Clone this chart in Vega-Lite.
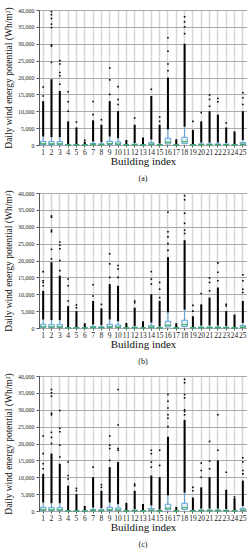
{
  "$schema": "https://vega.github.io/schema/vega-lite/v6.json",
  "padding": {"left": 2, "top": 6, "right": 1, "bottom": 0},
  "bounds": "flush",
  "spacing": 48,
  "config": {
    "font": "Liberation Serif",
    "view": {"stroke": "#555", "strokeWidth": 1},
    "axis": {"labelFont": "Liberation Serif", "titleFont": "Liberation Serif", "labelColor": "#222", "titleColor": "#111", "titleFontWeight": "normal", "domain": false, "tickColor": "#555"},
    "axisX": {"labelFontSize": 7.5, "titleFontSize": 11, "bandPosition": 0.5, "gridColor": "#d6d6d6", "gridWidth": 1.5, "labelAngle": 0, "tickSize": 2, "labelPadding": 1, "titlePadding": 0},
    "axisY": {"labelFontSize": 6, "titleFontSize": 9.5, "gridColor": "#aaa", "tickSize": 3, "labelPadding": 2, "titlePadding": 4},
    "title": {"fontSize": 8, "font": "Liberation Serif", "fontWeight": "normal", "color": "#111", "offset": 8}
  },
  "datasets": {
    "stats": [
      {"p":"a","b":1,"q1":100,"med":400,"q3":1100,"wh":2500,"dense":13000},
      {"p":"a","b":2,"q1":100,"med":350,"q3":1000,"wh":2300,"dense":19500},
      {"p":"a","b":3,"q1":100,"med":350,"q3":1000,"wh":2300,"dense":16000},
      {"p":"a","b":4,"q1":0,"med":40,"q3":120,"wh":300,"dense":7000},
      {"p":"a","b":5,"q1":0,"med":30,"q3":100,"wh":250,"dense":5200},
      {"p":"a","b":6,"q1":0,"med":20,"q3":60,"wh":150,"dense":1000},
      {"p":"a","b":7,"q1":50,"med":150,"q3":450,"wh":1000,"dense":7300},
      {"p":"a","b":8,"q1":40,"med":120,"q3":350,"wh":800,"dense":6000},
      {"p":"a","b":9,"q1":150,"med":400,"q3":1100,"wh":2500,"dense":13000},
      {"p":"a","b":10,"q1":100,"med":300,"q3":900,"wh":2000,"dense":10000},
      {"p":"a","b":11,"q1":0,"med":20,"q3":60,"wh":150,"dense":1500},
      {"p":"a","b":12,"q1":30,"med":100,"q3":250,"wh":600,"dense":6000},
      {"p":"a","b":13,"q1":0,"med":20,"q3":60,"wh":150,"dense":2200},
      {"p":"a","b":14,"q1":80,"med":250,"q3":700,"wh":1600,"dense":14500},
      {"p":"a","b":15,"q1":0,"med":40,"q3":150,"wh":400,"dense":6000},
      {"p":"a","b":16,"q1":300,"med":800,"q3":2000,"wh":4600,"dense":20000},
      {"p":"a","b":17,"q1":0,"med":20,"q3":60,"wh":150,"dense":1700},
      {"p":"a","b":18,"q1":400,"med":1000,"q3":2300,"wh":5400,"dense":30000},
      {"p":"a","b":19,"q1":0,"med":40,"q3":120,"wh":300,"dense":4500},
      {"p":"a","b":20,"q1":30,"med":100,"q3":300,"wh":700,"dense":7000},
      {"p":"a","b":21,"q1":30,"med":100,"q3":300,"wh":700,"dense":10000},
      {"p":"a","b":22,"q1":30,"med":100,"q3":300,"wh":700,"dense":9000},
      {"p":"a","b":23,"q1":30,"med":80,"q3":250,"wh":600,"dense":5200},
      {"p":"a","b":24,"q1":0,"med":30,"q3":100,"wh":250,"dense":4000},
      {"p":"a","b":25,"q1":100,"med":250,"q3":700,"wh":1500,"dense":10000},
      {"p":"b","b":1,"q1":100,"med":400,"q3":1100,"wh":2500,"dense":11000},
      {"p":"b","b":2,"q1":100,"med":350,"q3":1000,"wh":2300,"dense":19500},
      {"p":"b","b":3,"q1":100,"med":350,"q3":1000,"wh":2300,"dense":15500},
      {"p":"b","b":4,"q1":0,"med":40,"q3":120,"wh":300,"dense":6500},
      {"p":"b","b":5,"q1":0,"med":30,"q3":100,"wh":250,"dense":5000},
      {"p":"b","b":6,"q1":0,"med":20,"q3":60,"wh":150,"dense":1400},
      {"p":"b","b":7,"q1":50,"med":150,"q3":450,"wh":1000,"dense":8000},
      {"p":"b","b":8,"q1":40,"med":120,"q3":350,"wh":800,"dense":5800},
      {"p":"b","b":9,"q1":150,"med":400,"q3":1100,"wh":2500,"dense":13000},
      {"p":"b","b":10,"q1":100,"med":300,"q3":900,"wh":2000,"dense":12500},
      {"p":"b","b":11,"q1":0,"med":20,"q3":60,"wh":150,"dense":1500},
      {"p":"b","b":12,"q1":30,"med":100,"q3":250,"wh":600,"dense":6000},
      {"p":"b","b":13,"q1":0,"med":20,"q3":60,"wh":150,"dense":2000},
      {"p":"b","b":14,"q1":80,"med":250,"q3":700,"wh":1600,"dense":10000},
      {"p":"b","b":15,"q1":0,"med":40,"q3":150,"wh":400,"dense":8000},
      {"p":"b","b":16,"q1":300,"med":800,"q3":2000,"wh":4600,"dense":21000},
      {"p":"b","b":17,"q1":0,"med":20,"q3":60,"wh":150,"dense":1400},
      {"p":"b","b":18,"q1":400,"med":1000,"q3":2300,"wh":5400,"dense":26000},
      {"p":"b","b":19,"q1":0,"med":40,"q3":120,"wh":300,"dense":3500},
      {"p":"b","b":20,"q1":30,"med":100,"q3":300,"wh":700,"dense":7000},
      {"p":"b","b":21,"q1":30,"med":100,"q3":300,"wh":700,"dense":9000},
      {"p":"b","b":22,"q1":30,"med":100,"q3":300,"wh":700,"dense":12000},
      {"p":"b","b":23,"q1":30,"med":80,"q3":250,"wh":600,"dense":5000},
      {"p":"b","b":24,"q1":0,"med":30,"q3":100,"wh":250,"dense":4000},
      {"p":"b","b":25,"q1":100,"med":250,"q3":700,"wh":1500,"dense":8000},
      {"p":"c","b":1,"q1":100,"med":400,"q3":1100,"wh":2500,"dense":11000},
      {"p":"c","b":2,"q1":100,"med":350,"q3":1000,"wh":2300,"dense":17000},
      {"p":"c","b":3,"q1":100,"med":350,"q3":1000,"wh":2300,"dense":14000},
      {"p":"c","b":4,"q1":0,"med":40,"q3":120,"wh":300,"dense":7500},
      {"p":"c","b":5,"q1":0,"med":30,"q3":100,"wh":250,"dense":5000},
      {"p":"c","b":6,"q1":0,"med":20,"q3":60,"wh":150,"dense":1500},
      {"p":"c","b":7,"q1":50,"med":150,"q3":450,"wh":1000,"dense":10000},
      {"p":"c","b":8,"q1":40,"med":120,"q3":350,"wh":800,"dense":6000},
      {"p":"c","b":9,"q1":150,"med":400,"q3":1100,"wh":2500,"dense":13000},
      {"p":"c","b":10,"q1":100,"med":300,"q3":900,"wh":2000,"dense":14500},
      {"p":"c","b":11,"q1":0,"med":20,"q3":60,"wh":150,"dense":2400},
      {"p":"c","b":12,"q1":30,"med":100,"q3":250,"wh":600,"dense":6000},
      {"p":"c","b":13,"q1":0,"med":20,"q3":60,"wh":150,"dense":2100},
      {"p":"c","b":14,"q1":80,"med":250,"q3":700,"wh":1600,"dense":10500},
      {"p":"c","b":15,"q1":0,"med":40,"q3":150,"wh":400,"dense":10000},
      {"p":"c","b":16,"q1":300,"med":800,"q3":2000,"wh":4600,"dense":22000},
      {"p":"c","b":17,"q1":0,"med":20,"q3":60,"wh":150,"dense":1200},
      {"p":"c","b":18,"q1":400,"med":1000,"q3":2300,"wh":5400,"dense":27000},
      {"p":"c","b":19,"q1":0,"med":40,"q3":120,"wh":300,"dense":4000},
      {"p":"c","b":20,"q1":30,"med":100,"q3":300,"wh":700,"dense":7000},
      {"p":"c","b":21,"q1":30,"med":100,"q3":300,"wh":700,"dense":10000},
      {"p":"c","b":22,"q1":30,"med":100,"q3":300,"wh":700,"dense":15000},
      {"p":"c","b":23,"q1":30,"med":80,"q3":250,"wh":600,"dense":6300},
      {"p":"c","b":24,"q1":0,"med":30,"q3":100,"wh":250,"dense":3800},
      {"p":"c","b":25,"q1":100,"med":250,"q3":700,"wh":1500,"dense":9000}
    ],
    "out": [
      {"p":"a","b":1,"v":14500},{"p":"a","b":1,"v":17200},
      {"p":"a","b":2,"v":24500},{"p":"a","b":2,"v":29300},{"p":"a","b":2,"v":29700},{"p":"a","b":2,"v":34800},{"p":"a","b":2,"v":35800},{"p":"a","b":2,"v":37500},{"p":"a","b":2,"v":38600},{"p":"a","b":2,"v":39500},
      {"p":"a","b":3,"v":18000},{"p":"a","b":3,"v":20500},{"p":"a","b":3,"v":21500},{"p":"a","b":3,"v":24000},{"p":"a","b":3,"v":25000},
      {"p":"a","b":4,"v":10000},{"p":"a","b":4,"v":12800},{"p":"a","b":4,"v":15800},
      {"p":"a","b":5,"v":6800},
      {"p":"a","b":6,"v":1400},
      {"p":"a","b":7,"v":9000},{"p":"a","b":7,"v":12900},
      {"p":"a","b":8,"v":7500},
      {"p":"a","b":9,"v":15000},{"p":"a","b":9,"v":19300},{"p":"a","b":9,"v":22800},
      {"p":"a","b":10,"v":12000},{"p":"a","b":10,"v":13500},{"p":"a","b":10,"v":17300},
      {"p":"a","b":12,"v":8000},
      {"p":"a","b":14,"v":16500},
      {"p":"a","b":15,"v":7000},{"p":"a","b":15,"v":8300},
      {"p":"a","b":16,"v":22000},{"p":"a","b":16,"v":24000},{"p":"a","b":16,"v":27800},{"p":"a","b":16,"v":31800},
      {"p":"a","b":18,"v":33000},{"p":"a","b":18,"v":35000},{"p":"a","b":18,"v":36500},{"p":"a","b":18,"v":38000},
      {"p":"a","b":19,"v":7000},
      {"p":"a","b":20,"v":9600},
      {"p":"a","b":21,"v":11500},{"p":"a","b":21,"v":13500},{"p":"a","b":21,"v":14800},
      {"p":"a","b":22,"v":12800},{"p":"a","b":22,"v":13800},
      {"p":"a","b":23,"v":6500},
      {"p":"a","b":25,"v":12000},{"p":"a","b":25,"v":14000},{"p":"a","b":25,"v":15500},
      {"p":"b","b":1,"v":12500},{"p":"b","b":1,"v":13500},{"p":"b","b":1,"v":14000},{"p":"b","b":1,"v":16700},
      {"p":"b","b":2,"v":20500},{"p":"b","b":2,"v":23300},{"p":"b","b":2,"v":28500},{"p":"b","b":2,"v":29000},{"p":"b","b":2,"v":32800},{"p":"b","b":2,"v":33200},
      {"p":"b","b":3,"v":17000},{"p":"b","b":3,"v":20000},{"p":"b","b":3,"v":23500},{"p":"b","b":3,"v":24500},{"p":"b","b":3,"v":25500},
      {"p":"b","b":4,"v":8000},{"p":"b","b":4,"v":12500},{"p":"b","b":4,"v":14500},
      {"p":"b","b":5,"v":6000},{"p":"b","b":5,"v":6800},
      {"p":"b","b":7,"v":9500},{"p":"b","b":7,"v":12800},
      {"p":"b","b":8,"v":7000},
      {"p":"b","b":9,"v":15000},{"p":"b","b":9,"v":19000},{"p":"b","b":9,"v":22000},
      {"p":"b","b":10,"v":15000},{"p":"b","b":10,"v":17500},{"p":"b","b":10,"v":18500},
      {"p":"b","b":12,"v":7500},{"p":"b","b":12,"v":8000},
      {"p":"b","b":14,"v":13000},{"p":"b","b":14,"v":14500},{"p":"b","b":14,"v":16700},
      {"p":"b","b":15,"v":9000},{"p":"b","b":15,"v":11500},{"p":"b","b":15,"v":13500},
      {"p":"b","b":16,"v":23000},{"p":"b","b":16,"v":25000},{"p":"b","b":16,"v":27000},{"p":"b","b":16,"v":28500},{"p":"b","b":16,"v":34300},
      {"p":"b","b":18,"v":28000},{"p":"b","b":18,"v":29000},{"p":"b","b":18,"v":31000},{"p":"b","b":18,"v":34000},{"p":"b","b":18,"v":38000},{"p":"b","b":18,"v":39200},
      {"p":"b","b":19,"v":5000},{"p":"b","b":19,"v":6700},
      {"p":"b","b":20,"v":10200},
      {"p":"b","b":21,"v":11000},{"p":"b","b":21,"v":13500},{"p":"b","b":21,"v":14800},
      {"p":"b","b":22,"v":14000},{"p":"b","b":22,"v":16500},{"p":"b","b":22,"v":19300},
      {"p":"b","b":23,"v":6500},{"p":"b","b":23,"v":7000},
      {"p":"b","b":25,"v":10500},{"p":"b","b":25,"v":11500},{"p":"b","b":25,"v":14000},{"p":"b","b":25,"v":15800},
      {"p":"c","b":1,"v":12500},{"p":"c","b":1,"v":14000},{"p":"c","b":1,"v":17000},{"p":"c","b":1,"v":22200},
      {"p":"c","b":2,"v":20000},{"p":"c","b":2,"v":21800},{"p":"c","b":2,"v":23300},{"p":"c","b":2,"v":28500},{"p":"c","b":2,"v":29000},{"p":"c","b":2,"v":34000},{"p":"c","b":2,"v":35000},{"p":"c","b":2,"v":36000},
      {"p":"c","b":3,"v":16000},{"p":"c","b":3,"v":19500},{"p":"c","b":3,"v":23500},{"p":"c","b":3,"v":24500},{"p":"c","b":3,"v":29800},
      {"p":"c","b":4,"v":9500},{"p":"c","b":4,"v":10500},{"p":"c","b":4,"v":14500},
      {"p":"c","b":5,"v":6000},{"p":"c","b":5,"v":6700},
      {"p":"c","b":7,"v":13000},
      {"p":"c","b":8,"v":7000},{"p":"c","b":8,"v":7800},
      {"p":"c","b":9,"v":15000},{"p":"c","b":9,"v":18500},{"p":"c","b":9,"v":19500},{"p":"c","b":9,"v":22200},
      {"p":"c","b":10,"v":18000},{"p":"c","b":10,"v":18500},{"p":"c","b":10,"v":25500},{"p":"c","b":10,"v":36000},
      {"p":"c","b":12,"v":7500},{"p":"c","b":12,"v":8000},
      {"p":"c","b":14,"v":13000},{"p":"c","b":14,"v":14500},{"p":"c","b":14,"v":17000},{"p":"c","b":14,"v":18000},
      {"p":"c","b":15,"v":13500},{"p":"c","b":15,"v":18000},
      {"p":"c","b":16,"v":25000},{"p":"c","b":16,"v":27500},{"p":"c","b":16,"v":28500},{"p":"c","b":16,"v":30500},{"p":"c","b":16,"v":32500},{"p":"c","b":16,"v":34500},
      {"p":"c","b":18,"v":28500},{"p":"c","b":18,"v":29500},{"p":"c","b":18,"v":30000},{"p":"c","b":18,"v":33500},{"p":"c","b":18,"v":34500},{"p":"c","b":18,"v":38000},{"p":"c","b":18,"v":39000},
      {"p":"c","b":19,"v":6000},{"p":"c","b":19,"v":7000},
      {"p":"c","b":20,"v":10000},{"p":"c","b":20,"v":12000},{"p":"c","b":20,"v":14200},
      {"p":"c","b":21,"v":12500},{"p":"c","b":21,"v":14800},{"p":"c","b":21,"v":20600},
      {"p":"c","b":22,"v":18000},{"p":"c","b":22,"v":28500},
      {"p":"c","b":23,"v":11500},
      {"p":"c","b":24,"v":4200},
      {"p":"c","b":25,"v":11000},{"p":"c","b":25,"v":12000},{"p":"c","b":25,"v":14500},{"p":"c","b":25,"v":15800}
    ]
  },
  "vconcat": [
    {
      "title": {"text": "(a)", "orient": "bottom"},
      "width": 208, "height": 135,
      "encoding": {
        "x": {"field": "b", "type": "ordinal", "scale": {"domain": [1,2,3,4,5,6,7,8,9,10,11,12,13,14,15,16,17,18,19,20,21,22,23,24,25], "paddingInner": 0, "paddingOuter": 0}, "axis": {"grid": true}, "title": "Building index"}
      },
      "layer": [
        {"data": {"name": "stats"}, "transform": [{"filter": "datum.p === 'a'"}], "mark": {"type": "rule", "color": "#000", "strokeWidth": 2}, "encoding": {"y": {"field": "wh", "type": "quantitative", "scale": {"domain": [0, 40000], "nice": false}, "axis": {"values": [0,5000,10000,15000,20000,25000,30000,35000,40000], "format": ",d", "grid": true}, "title": "Daily wind energy potential (Wh/m²)"}, "y2": {"field": "dense"}}},
        {"data": {"name": "stats"}, "transform": [{"filter": "datum.p === 'a'"}], "mark": {"type": "rule", "color": "#5ba3d9", "strokeWidth": 1}, "encoding": {"y": {"field": "q3", "type": "quantitative", "scale": {"domain": [0, 40000], "nice": false}, "axis": {"values": [0,5000,10000,15000,20000,25000,30000,35000,40000], "format": ",d", "grid": true}, "title": "Daily wind energy potential (Wh/m²)"}, "y2": {"field": "wh"}}},
        {"data": {"name": "stats"}, "transform": [{"filter": "datum.p === 'a'"}], "mark": {"type": "bar", "size": 5.5, "fill": "#eaf4fb", "stroke": "#5ba3d9", "strokeWidth": 1}, "encoding": {"y": {"field": "q1", "type": "quantitative", "scale": {"domain": [0, 40000], "nice": false}, "axis": {"values": [0,5000,10000,15000,20000,25000,30000,35000,40000], "format": ",d", "grid": true}, "title": "Daily wind energy potential (Wh/m²)"}, "y2": {"field": "q3"}}},
        {"data": {"name": "stats"}, "transform": [{"filter": "datum.p === 'a'"}], "mark": {"type": "tick", "color": "#2ca02c", "thickness": 1.5, "size": 5.5}, "encoding": {"y": {"field": "med", "type": "quantitative", "scale": {"domain": [0, 40000], "nice": false}, "axis": {"values": [0,5000,10000,15000,20000,25000,30000,35000,40000], "format": ",d", "grid": true}, "title": "Daily wind energy potential (Wh/m²)"}}},
        {"data": {"name": "out"}, "transform": [{"filter": "datum.p === 'a'"}], "mark": {"type": "square", "color": "#000", "size": 2.5, "opacity": 1}, "encoding": {"y": {"field": "v", "type": "quantitative", "scale": {"domain": [0, 40000], "nice": false}, "axis": {"values": [0,5000,10000,15000,20000,25000,30000,35000,40000], "format": ",d", "grid": true}, "title": "Daily wind energy potential (Wh/m²)"}}}
      ]
    },
    {
      "title": {"text": "(b)", "orient": "bottom"},
      "width": 208, "height": 135,
      "encoding": {
        "x": {"field": "b", "type": "ordinal", "scale": {"domain": [1,2,3,4,5,6,7,8,9,10,11,12,13,14,15,16,17,18,19,20,21,22,23,24,25], "paddingInner": 0, "paddingOuter": 0}, "axis": {"grid": true}, "title": "Building index"}
      },
      "layer": [
        {"data": {"name": "stats"}, "transform": [{"filter": "datum.p === 'b'"}], "mark": {"type": "rule", "color": "#000", "strokeWidth": 2}, "encoding": {"y": {"field": "wh", "type": "quantitative", "scale": {"domain": [0, 40000], "nice": false}, "axis": {"values": [0,5000,10000,15000,20000,25000,30000,35000,40000], "format": ",d", "grid": true}, "title": "Daily wind energy potential (Wh/m²)"}, "y2": {"field": "dense"}}},
        {"data": {"name": "stats"}, "transform": [{"filter": "datum.p === 'b'"}], "mark": {"type": "rule", "color": "#5ba3d9", "strokeWidth": 1}, "encoding": {"y": {"field": "q3", "type": "quantitative", "scale": {"domain": [0, 40000], "nice": false}, "axis": {"values": [0,5000,10000,15000,20000,25000,30000,35000,40000], "format": ",d", "grid": true}, "title": "Daily wind energy potential (Wh/m²)"}, "y2": {"field": "wh"}}},
        {"data": {"name": "stats"}, "transform": [{"filter": "datum.p === 'b'"}], "mark": {"type": "bar", "size": 5.5, "fill": "#eaf4fb", "stroke": "#5ba3d9", "strokeWidth": 1}, "encoding": {"y": {"field": "q1", "type": "quantitative", "scale": {"domain": [0, 40000], "nice": false}, "axis": {"values": [0,5000,10000,15000,20000,25000,30000,35000,40000], "format": ",d", "grid": true}, "title": "Daily wind energy potential (Wh/m²)"}, "y2": {"field": "q3"}}},
        {"data": {"name": "stats"}, "transform": [{"filter": "datum.p === 'b'"}], "mark": {"type": "tick", "color": "#2ca02c", "thickness": 1.5, "size": 5.5}, "encoding": {"y": {"field": "med", "type": "quantitative", "scale": {"domain": [0, 40000], "nice": false}, "axis": {"values": [0,5000,10000,15000,20000,25000,30000,35000,40000], "format": ",d", "grid": true}, "title": "Daily wind energy potential (Wh/m²)"}}},
        {"data": {"name": "out"}, "transform": [{"filter": "datum.p === 'b'"}], "mark": {"type": "square", "color": "#000", "size": 2.5, "opacity": 1}, "encoding": {"y": {"field": "v", "type": "quantitative", "scale": {"domain": [0, 40000], "nice": false}, "axis": {"values": [0,5000,10000,15000,20000,25000,30000,35000,40000], "format": ",d", "grid": true}, "title": "Daily wind energy potential (Wh/m²)"}}}
      ]
    },
    {
      "title": {"text": "(c)", "orient": "bottom"},
      "width": 208, "height": 135,
      "encoding": {
        "x": {"field": "b", "type": "ordinal", "scale": {"domain": [1,2,3,4,5,6,7,8,9,10,11,12,13,14,15,16,17,18,19,20,21,22,23,24,25], "paddingInner": 0, "paddingOuter": 0}, "axis": {"grid": true}, "title": "Building index"}
      },
      "layer": [
        {"data": {"name": "stats"}, "transform": [{"filter": "datum.p === 'c'"}], "mark": {"type": "rule", "color": "#000", "strokeWidth": 2}, "encoding": {"y": {"field": "wh", "type": "quantitative", "scale": {"domain": [0, 40000], "nice": false}, "axis": {"values": [0,5000,10000,15000,20000,25000,30000,35000,40000], "format": ",d", "grid": true}, "title": "Daily wind energy potential (Wh/m²)"}, "y2": {"field": "dense"}}},
        {"data": {"name": "stats"}, "transform": [{"filter": "datum.p === 'c'"}], "mark": {"type": "rule", "color": "#5ba3d9", "strokeWidth": 1}, "encoding": {"y": {"field": "q3", "type": "quantitative", "scale": {"domain": [0, 40000], "nice": false}, "axis": {"values": [0,5000,10000,15000,20000,25000,30000,35000,40000], "format": ",d", "grid": true}, "title": "Daily wind energy potential (Wh/m²)"}, "y2": {"field": "wh"}}},
        {"data": {"name": "stats"}, "transform": [{"filter": "datum.p === 'c'"}], "mark": {"type": "bar", "size": 5.5, "fill": "#eaf4fb", "stroke": "#5ba3d9", "strokeWidth": 1}, "encoding": {"y": {"field": "q1", "type": "quantitative", "scale": {"domain": [0, 40000], "nice": false}, "axis": {"values": [0,5000,10000,15000,20000,25000,30000,35000,40000], "format": ",d", "grid": true}, "title": "Daily wind energy potential (Wh/m²)"}, "y2": {"field": "q3"}}},
        {"data": {"name": "stats"}, "transform": [{"filter": "datum.p === 'c'"}], "mark": {"type": "tick", "color": "#2ca02c", "thickness": 1.5, "size": 5.5}, "encoding": {"y": {"field": "med", "type": "quantitative", "scale": {"domain": [0, 40000], "nice": false}, "axis": {"values": [0,5000,10000,15000,20000,25000,30000,35000,40000], "format": ",d", "grid": true}, "title": "Daily wind energy potential (Wh/m²)"}}},
        {"data": {"name": "out"}, "transform": [{"filter": "datum.p === 'c'"}], "mark": {"type": "square", "color": "#000", "size": 2.5, "opacity": 1}, "encoding": {"y": {"field": "v", "type": "quantitative", "scale": {"domain": [0, 40000], "nice": false}, "axis": {"values": [0,5000,10000,15000,20000,25000,30000,35000,40000], "format": ",d", "grid": true}, "title": "Daily wind energy potential (Wh/m²)"}}}
      ]
    }
  ]
}
